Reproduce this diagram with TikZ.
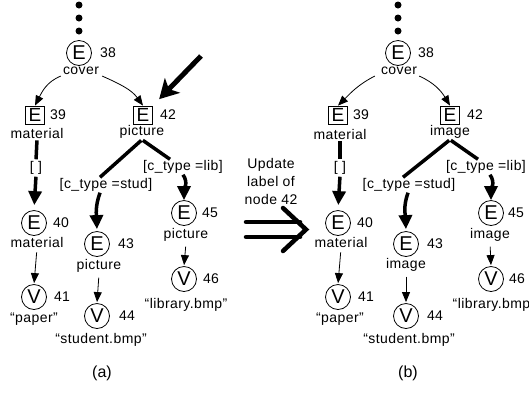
\documentclass[tikz,border=0pt]{standalone}
\usepackage{fontspec}
\setmainfont{Liberation Sans}
\newfontfamily\lblfont[LetterSpace=3]{Liberation Sans}
\usetikzlibrary{arrows.meta}
\begin{document}
\begin{tikzpicture}[x=1pt,y=-1pt,
  circ/.style={circle,draw,line width=0.8pt,minimum size=25pt,inner sep=0pt,font=\fontsize{20}{20}\selectfont},
  sq/.style={rectangle,draw,line width=0.8pt,minimum width=19pt,minimum height=18pt,inner sep=0pt,font=\fontsize{19}{19}\selectfont},
  num/.style={font=\lblfont\fontsize{14}{14}\selectfont,inner sep=0pt},
  lbl/.style={font=\lblfont\fontsize{14}{14}\selectfont,inner sep=1pt},
  subcap/.style={font=\fontsize{16}{18}\selectfont,inner sep=0pt},
  dot/.style={circle,fill,inner sep=0pt,minimum size=7pt},
  thinarrow/.style={line width=0.8pt,-{Triangle[length=10pt,width=8pt]}},
  thickline/.style={line width=3.5pt},
  thickarrow/.style={line width=3.5pt,-{Triangle[length=14pt,width=13pt]}},
  bigarrow/.style={line width=5pt,-{Stealth[length=19pt,width=21pt,inset=5pt]}},
  dblarrow/.style={line width=4.5pt,line cap=round}
]
\useasboundingbox (0,0) rectangle (529,392);

% ================= tree (a) =================
\node[dot] (ad1) at (79,5) {};
\node[dot] (ad2) at (79,18) {};
\node[dot] (ad3) at (79,31) {};
\node[circ] (a38) at (79,53) {E};
\node[num] at (108,53) {38};
\node[lbl] (acov) at (81,71) {cover};

\node[sq] (a39) at (35,115) {E};
\node[num] at (58,115) {39};
\node[lbl] (amat39) at (37,133) {material};

\node[sq] (a42) at (143,115) {E};
\node[num] at (168,115) {42};
\node[lbl] (apic42) at (142,132) {picture};

\node[lbl] (abr) at (36,168) {[ ]};
\node[circ] (a40) at (34,223) {E};
\node[num] at (61,223) {40};
\node[lbl] (amat40) at (37,242) {material};
\node[circ] (a41) at (34,297) {V};
\node[num] at (62,297) {41};
\node[lbl] at (34,319) {“paper”};

\node[lbl] (astud) at (106,185) {[c\_type =stud]};
\node[circ] (a43) at (97,244) {E};
\node[num] at (126,244) {43};
\node[lbl] (apic43) at (99,266) {picture};
\node[circ] (a44) at (97,316) {V};
\node[num] at (127,316) {44};
\node[lbl] at (101,340) {“student.bmp”};

\node[lbl] (alib) at (183,167) {[c\_type =lib]};
\node[circ] (a45) at (184,213) {E};
\node[num] at (210,213) {45};
\node[lbl] (apic45) at (186,235) {picture};
\node[circ] (a46) at (184,279) {V};
\node[num] at (211,279) {46};
\node[lbl] at (186,305) {“library.bmp”};

\node[subcap] at (102,373) {(a)};

\draw[thinarrow] ([xshift=-1pt]acov.south west) to[out=202,in=63] (a39.north);
\draw[thinarrow] ([xshift=2pt]acov.south east) to[out=-24,in=126] (a42.north);
\coordinate (bigstart) at (201,56);
\draw[bigarrow,shorten >=9pt] (bigstart) -- (a42.north east);

\draw[thickline,shorten <=1pt,shorten >=1pt] (amat39.south) -- (abr.north);
\draw[thickarrow,shorten <=1pt,shorten >=5pt] (abr.south) -- (a40.north);
\draw[thinarrow,shorten <=4pt,shorten >=1pt] (amat40.south) -- (a41.north);

\draw[thickline,shorten <=1pt] (apic42.south) -- ([xshift=-6pt]astud.north);
\draw[thickline,shorten <=1pt] (apic42.south) -- ([xshift=-13pt]alib.north);
\draw[thickarrow,shorten >=2pt] ([xshift=-6pt]astud.south) to[out=250,in=92] (a43.north);
\draw[thickarrow] (alib.south) to[out=-55,in=90] (a45.north);
\draw[thinarrow,shorten <=4pt,shorten >=1pt] (apic43.south) -- (a44.north);
\draw[thinarrow,shorten <=4pt,shorten >=1pt] (apic45.south) -- (a46.north);

% ================= middle =================
\node[lbl,align=center,font=\lblfont\fontsize{14}{18}\selectfont] (upd) at (271,181) {Update\\label of\\node 42};
\coordinate (da1) at (246,222);
\coordinate (da2) at (300,222);
\coordinate (db1) at (246,237);
\coordinate (db2) at (300,237);
\coordinate (dc1) at (283,208);
\coordinate (dc2) at (306,229.5);
\coordinate (dc3) at (283,251);
\draw[dblarrow] (da1) -- (da2);
\draw[dblarrow] (db1) -- (db2);
\draw[dblarrow,line join=miter] (dc1) -- (dc2) -- (dc3);

% ================= tree (b) =================
\node[dot] (bd1) at (398,5) {};
\node[dot] (bd2) at (398,18) {};
\node[dot] (bd3) at (398,31) {};
\node[circ] (b38) at (398,53) {E};
\node[num] at (426,53) {38};
\node[lbl] (bcov) at (399,71) {cover};

\node[sq] (b39) at (338,115) {E};
\node[num] at (361,115) {39};
\node[lbl] (bmat39) at (340,134) {material};

\node[sq] (b42) at (450,115) {E};
\node[num] at (475,115) {42};
\node[lbl] (bpic42) at (450,132) {image};

\node[lbl] (bbr) at (340,168) {[ ]};
\node[circ] (b40) at (338,223) {E};
\node[num] at (365,223) {40};
\node[lbl] (bmat40) at (341,242) {material};
\node[circ] (b41) at (338,297) {V};
\node[num] at (366,297) {41};
\node[lbl] at (340,319) {“paper”};

\node[lbl] (bstud) at (409,185) {[c\_type =stud]};
\node[circ] (b43) at (406,244) {E};
\node[num] at (435,244) {43};
\node[lbl] (bpic43) at (406,265) {image};
\node[circ] (b44) at (406,316) {V};
\node[num] at (435,316) {44};
\node[lbl] at (409,340) {“student.bmp”};

\node[lbl] (blib) at (486,167) {[c\_type =lib]};
\node[circ] (b45) at (491,213) {E};
\node[num] at (516,213) {45};
\node[lbl] (bpic45) at (490,235) {image};
\node[circ] (b46) at (491,279) {V};
\node[num] at (517,279) {46};
\node[lbl] at (494,305) {“library.bmp”};

\node[subcap] at (408,373) {(b)};

\draw[thinarrow] ([xshift=-5pt]bcov.south west) to[out=207,in=45] (b39.north);
\draw[thinarrow] ([xshift=1pt]bcov.south east) to[out=-24,in=121] (b42.north);

\draw[thickline,shorten <=1pt,shorten >=1pt] (bmat39.south) -- (bbr.north);
\draw[thickarrow,shorten <=1pt,shorten >=5pt] (bbr.south) -- (b40.north);
\draw[thinarrow,shorten <=4pt,shorten >=1pt] (bmat40.south) -- (b41.north);

\draw[thickline,shorten <=1pt] (bpic42.south) -- ([xshift=-6pt]bstud.north);
\draw[thickline,shorten <=1pt] (bpic42.south) -- ([xshift=-8pt]blib.north);
\draw[thickarrow,shorten >=2pt] ([xshift=-1pt]bstud.south) to[out=250,in=92] (b43.north);
\draw[thickarrow] ([xshift=4pt]blib.south) to[out=-55,in=90] (b45.north);
\draw[thinarrow,shorten <=4pt,shorten >=1pt] (bpic43.south) -- (b44.north);
\draw[thinarrow,shorten <=4pt,shorten >=1pt] (bpic45.south) -- (b46.north);
\end{tikzpicture}
\end{document}
